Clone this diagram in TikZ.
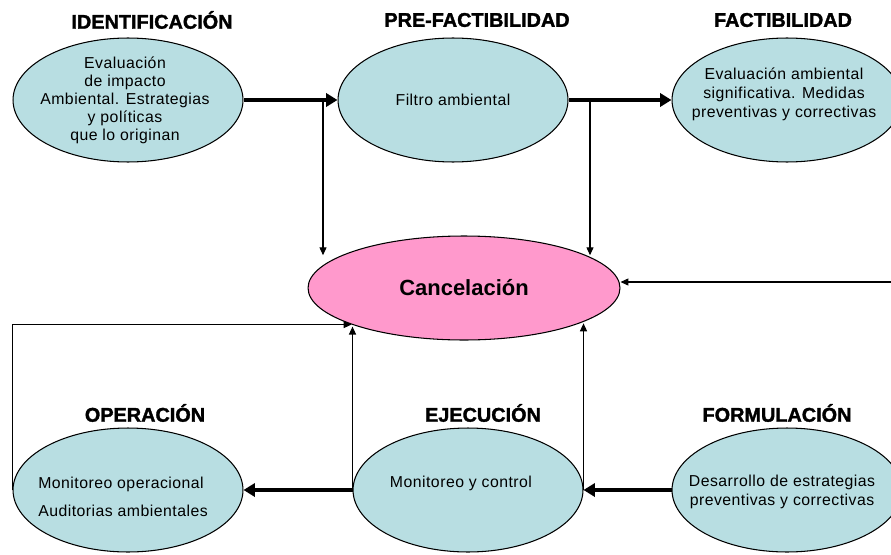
\documentclass[tikz,border=0pt]{standalone}
\usepackage{fontspec}
\setmainfont{Liberation Sans}
\newfontfamily\bodyfont[LetterSpace=3]{Liberation Sans}
\newfontfamily\titlefont[FakeBold=1.6]{Liberation Sans Bold}
\usetikzlibrary{positioning, calc, arrows.meta, shapes.geometric}

\definecolor{phasefill}{RGB}{184,222,226}
\definecolor{cancelfill}{RGB}{255,153,204}

\begin{document}
\begin{tikzpicture}[x=0.02cm, y=-0.02cm,
  phase/.style={ellipse, draw, line width=0.6pt, fill=phasefill, minimum width=4.6cm, minimum height=2.48cm, inner sep=0pt},
  cancel/.style={ellipse, draw, line width=0.6pt, fill=cancelfill, minimum width=6.24cm, minimum height=2.08cm, inner sep=0pt, font=\bfseries\fontsize{12.5}{15}\selectfont},
  title/.style={font=\titlefont\fontsize{11.3}{13}\selectfont, inner sep=0pt},
  txt/.style={font=\bodyfont\fontsize{9}{10.2}\selectfont, align=center, inner sep=0pt},
  flow/.style={line width=2.3pt, -{Triangle[length=6.5pt,width=7.5pt]}},
  link/.style={line width=0.6pt, -{Triangle[length=4.5pt,width=4pt]}}
]
\useasboundingbox (0,0) rectangle (891,554);

\draw 	(128,100) node[phase](e1){}  (453,100) node[phase](e2){}  (787,100) node[phase](e3){}
		(128,490) node[phase](e4){}  (468,490) node[phase](e5){}  (787,490) node[phase](e6){};
\draw (464,288) node[cancel](c){Cancelación};

% phase titles
\path 	(152,20) node[title](t1){IDENTIFICACIÓN}  (477,20) node[title](t2){PRE-FACTIBILIDAD}
		(783,20) node[title](t3){FACTIBILIDAD}    (145,413) node[title](t4){OPERACIÓN}
		(483,413) node[title](t5){EJECUCIÓN}      (777,413) node[title](t6){FORMULACIÓN};

% texts inside the ellipses
\path 	(125,100) node[txt](x1){Evaluación\\de impacto\\Ambiental. Estrategias\\y políticas\\que lo originan}
		(453,100) node[txt](x2){Filtro ambiental}
		(784,94) node[txt, font=\bodyfont\fontsize{9}{10.8}\selectfont](x3){Evaluación ambiental\\significativa. Medidas\\preventivas y correctivas}
		(123,497) node[txt, align=left, font=\bodyfont\fontsize{9}{15.9}\selectfont](x4){Monitoreo operacional\\Auditorias ambientales}
		(461,483) node[txt](x5){Monitoreo y control}
		(782,492) node[txt, font=\bodyfont\fontsize{9}{10.8}\selectfont](x6){Desarrollo de estrategias\\preventivas y correctivas};

\coordinate (j1) at (323,100);
\coordinate (j2) at (590,100);
\coordinate (r1) at (895,282);

\path[flow]
    (e1) edge (e2)
    (e2) edge (e3)
    (e5) edge (e4)
    (e6) edge (e5);
\path[link]
    (j1) edge (j1 |- c.165)
    (j2) edge (j2 |- c.15)
    (r1) edge (c.east |- r1)
    (e5.west) edge (e5.west |- c.200)
    (e5.east) edge (e5.east |- c.343);
\draw[link] (e4.west) |- (c.198);
\end{tikzpicture}
\end{document}
